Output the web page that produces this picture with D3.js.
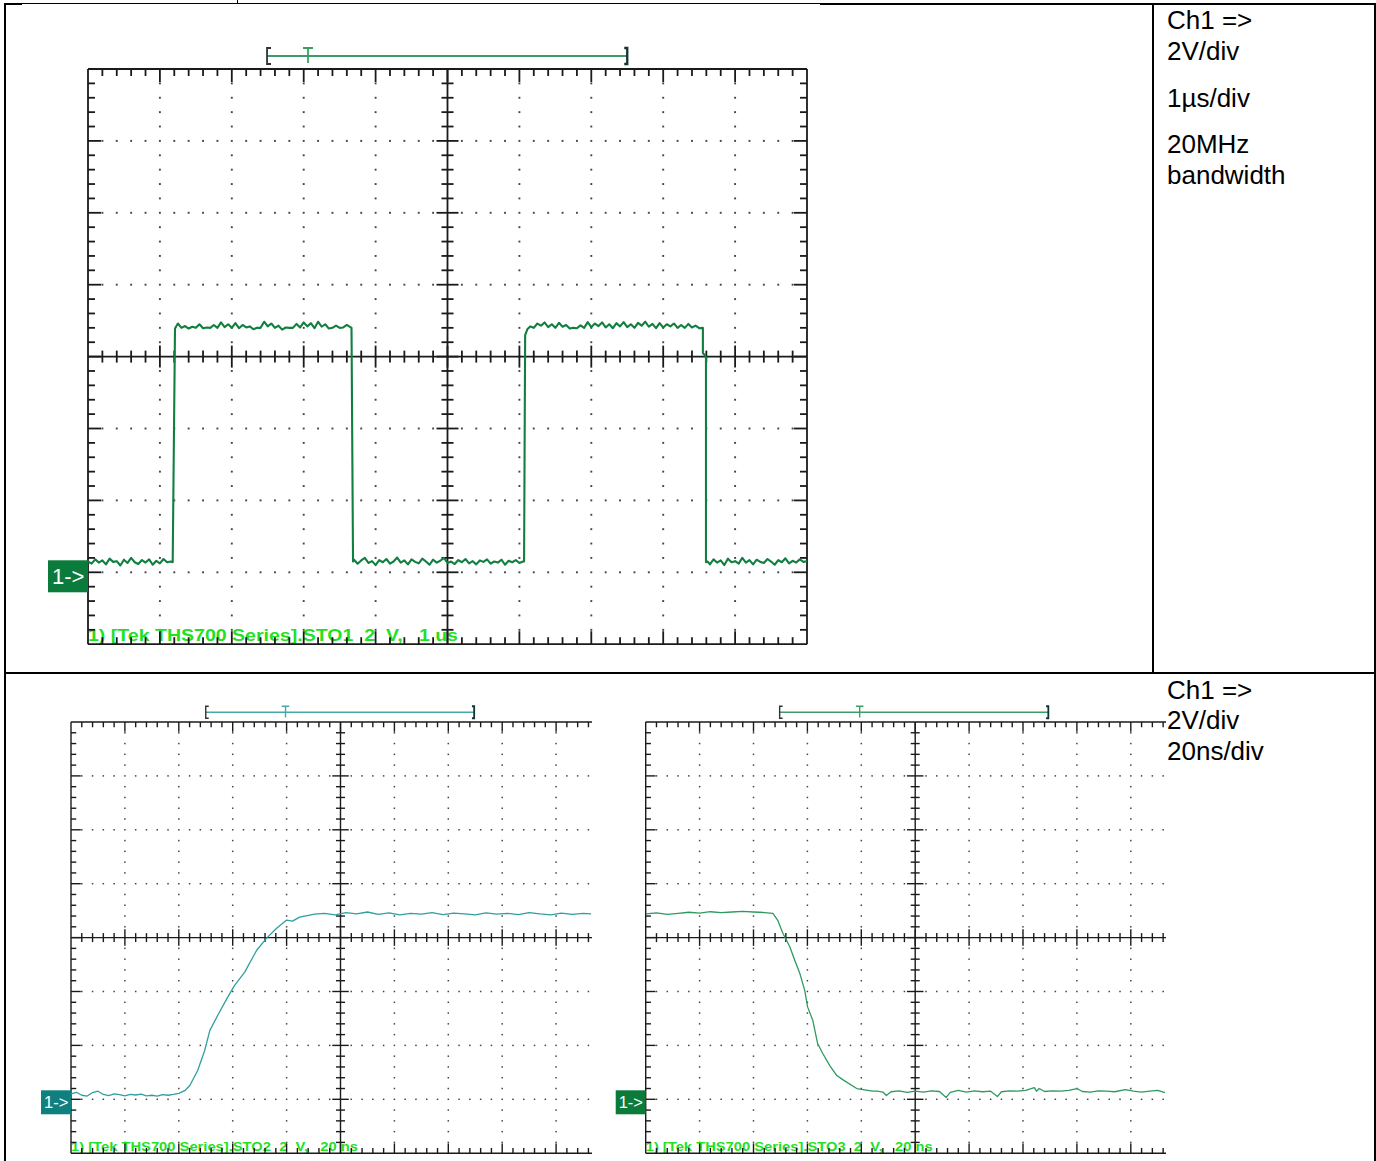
<!DOCTYPE html>
<html>
<head>
<meta charset="utf-8">
<script src="https://cdn.jsdelivr.net/npm/d3@7"></script>
<style>
  body { margin: 0; background: #fff; }
  svg { display: block; }
  text { font-family: "Liberation Sans", Arial, sans-serif; }
</style>
</head>
<body>
<svg id="chart" width="1376" height="1161"></svg>
<script>
// ---- data (time, volts above the ground marker) ----
// top screen: 1 us/div, 2 V/div
const topTrace = [
  [0.00,0.30],[0.05,0.24],[0.10,0.36],[0.15,0.27],[0.20,0.33],[0.25,0.22],[0.30,0.38],[0.35,0.29],
  [0.40,0.31],[0.45,0.19],[0.50,0.35],[0.55,0.26],[0.60,0.40],[0.65,0.28],[0.70,0.23],[0.75,0.34],
  [0.80,0.27],[0.85,0.36],[0.90,0.21],[0.95,0.32],[1.00,0.25],[1.05,0.37],[1.10,0.28],[1.15,0.30],
  [1.178,0.28],[1.21,6.78],
  [1.25,6.92],[1.30,6.80],[1.35,6.85],[1.40,6.78],[1.45,6.83],[1.50,6.80],[1.55,6.90],[1.60,6.79],
  [1.65,6.81],[1.70,6.80],[1.75,6.88],[1.80,6.80],[1.85,6.95],[1.90,6.82],[1.95,6.90],[2.00,6.80],
  [2.05,6.93],[2.10,6.79],[2.15,6.88],[2.20,6.81],[2.25,6.84],[2.30,6.76],[2.35,6.80],[2.40,6.80],
  [2.45,6.97],[2.50,6.84],[2.55,6.92],[2.60,6.80],[2.65,6.86],[2.70,6.75],[2.75,6.81],[2.80,6.80],
  [2.85,6.80],[2.90,6.91],[2.95,6.81],[3.00,6.95],[3.05,6.84],[3.10,6.93],[3.15,6.79],[3.20,6.97],
  [3.25,6.83],[3.30,6.90],[3.35,6.78],[3.40,6.80],[3.45,6.86],[3.50,6.80],[3.55,6.81],[3.60,6.88],
  [3.665,6.80],[3.686,0.30],
  [3.70,0.35],[3.75,0.24],[3.80,0.33],[3.85,0.40],[3.90,0.26],[3.95,0.31],[4.00,0.20],[4.05,0.34],
  [4.10,0.28],[4.15,0.37],[4.20,0.24],[4.25,0.30],[4.30,0.41],[4.35,0.27],[4.40,0.33],[4.45,0.22],
  [4.50,0.36],[4.55,0.29],[4.60,0.25],[4.65,0.38],[4.70,0.30],[4.75,0.21],[4.80,0.35],[4.85,0.27],
  [4.90,0.32],[4.95,0.40],[5.00,0.26],[5.05,0.30],[5.10,0.23],[5.15,0.34],[5.20,0.28],[5.25,0.37],
  [5.30,0.25],[5.35,0.31],[5.40,0.22],[5.45,0.33],[5.50,0.29],[5.55,0.36],[5.60,0.24],[5.65,0.30],
  [5.70,0.27],[5.75,0.35],[5.80,0.21],[5.85,0.32],[5.90,0.28],[5.95,0.34],[6.00,0.26],[6.05,0.30],
  [6.065,0.30],[6.08,6.60],[6.11,6.76],
  [6.15,6.84],[6.20,6.80],[6.25,6.92],[6.30,6.86],[6.35,6.95],[6.40,6.82],[6.45,6.90],[6.50,6.80],
  [6.55,6.94],[6.60,6.83],[6.65,6.88],[6.70,6.78],[6.75,6.80],[6.80,6.79],[6.85,6.87],[6.90,6.80],
  [6.95,6.96],[7.00,6.82],[7.05,6.92],[7.10,6.85],[7.15,6.95],[7.20,6.81],[7.25,6.90],[7.30,6.79],
  [7.35,6.93],[7.40,6.84],[7.45,6.96],[7.50,6.82],[7.55,6.90],[7.60,6.80],[7.65,6.94],[7.70,6.86],
  [7.75,6.97],[7.80,6.83],[7.85,6.91],[7.90,6.79],[7.95,6.93],[8.00,6.81],[8.05,6.90],[8.10,6.84],
  [8.15,6.92],[8.20,6.80],[8.25,6.88],[8.30,6.80],[8.35,6.91],[8.40,6.81],[8.45,6.86],[8.50,6.79],
  [8.552,6.80],[8.552,6.10],[8.595,6.00],[8.595,0.28],
  [8.62,0.30],[8.65,0.22],[8.70,0.36],[8.75,0.27],[8.80,0.33],[8.85,0.20],[8.90,0.38],[8.95,0.28],
  [9.00,0.31],[9.05,0.24],[9.10,0.40],[9.15,0.27],[9.20,0.34],[9.25,0.22],[9.30,0.35],[9.35,0.29],
  [9.40,0.26],[9.45,0.37],[9.50,0.30],[9.55,0.21],[9.60,0.34],[9.65,0.28],[9.70,0.39],[9.75,0.25],
  [9.80,0.32],[9.85,0.27],[9.90,0.36],[9.95,0.29],[10.00,0.31]
];

// bottom left screen: 20 ns/div, rising edge
const riseTrace = [
  [0,0.20],[2,0.26],[4,0.15],[6,0.12],[8,0.25],[10,0.30],[12,0.18],[14,0.14],[16,0.20],[18,0.17],
  [20,0.13],[22,0.18],[24,0.16],[26,0.19],[28,0.13],[30,0.15],[32,0.12],[34,0.17],[36,0.15],[38,0.18],
  [40,0.22],[42.2,0.32],[44.1,0.51],[47.0,1.07],[49.6,1.81],[51.5,2.55],[54.4,3.11],[58.1,3.78],
  [60.7,4.23],[64.4,4.71],[68.9,5.53],[72.6,5.98],[76.3,6.35],[80.0,6.65],[82.2,6.61],[84.8,6.76],
  [90.4,6.87],[94,6.90],[98,6.84],[102,6.93],[106,6.88],[110,6.95],[114,6.86],[118,6.92],[122,6.84],
  [126,6.90],[130,6.87],[134,6.93],[138,6.85],[142,6.91],[146,6.88],[150,6.84],[154,6.92],[158,6.87],
  [162,6.90],[166,6.85],[170,6.93],[174,6.88],[178,6.84],[182,6.91],[186,6.86],[190,6.90],[193,6.88]
];

// bottom right screen: 20 ns/div, falling edge
const fallTrace = [
  [0,6.88],[4,6.92],[8,6.86],[12,6.90],[16,6.94],[20,6.91],[24,6.96],[28,6.93],[32,6.95],[36,6.97],
  [40,6.95],[44,6.93],[47.2,6.90],[49.0,6.64],[50.9,6.16],[53.5,5.65],[55.3,5.16],[57.2,4.67],
  [59.0,4.04],[60.1,3.42],[62.0,2.93],[63.8,2.07],[65.7,1.70],[68.3,1.25],[70.9,0.88],[73.1,0.73],
  [78.3,0.40],[84.2,0.30],[86,0.30],[88,0.27],[89.3,0.14],[91,0.28],[94,0.31],[97,0.26],[100,0.30],
  [103,0.27],[106,0.31],[109,0.29],[111.5,0.07],[113,0.26],[116,0.33],[119,0.27],[122,0.31],[125,0.28],
  [128,0.30],[130.5,0.10],[132,0.28],[135,0.31],[138,0.30],[141,0.33],[144.2,0.43],[145,0.30],
  [146,0.40],[148,0.29],[151,0.31],[154,0.30],[157,0.33],[160,0.40],[162,0.29],[165,0.27],[168,0.31],
  [171,0.30],[174,0.28],[178,0.36],[181,0.30],[184,0.27],[187,0.30],[190,0.33],[192.7,0.25]
];

// record bar: [start, trigger, end] in screen time units
const topBar = [2.49, 3.06, 7.50];
const riseBar = [50, 79.6, 149.6];
const fallBar = [49.7, 79.4, 149.4];

const topLabel = "1) [Tek THS700 Series].STO1  2  V,   1 us";
const riseLabel = "1) [Tek THS700 Series].STO2  2  V,   20 ns";
const fallLabel = "1) [Tek THS700 Series].STO3  2  V,   20 ns";

const topNotes = ["Ch1 =>", "2V/div", "1\u00b5s/div", "20MHz", "bandwidth"];
const bottomNotes = ["Ch1 =>", "2V/div", "20ns/div"];

const svg = d3.select("#chart");

// ---- table lines ----
const table = svg.append("g").attr("stroke", "#000").attr("fill", "none");
table.append("line").attr("x1", 5).attr("y1", 4).attr("x2", 22).attr("y2", 4).attr("stroke-width", 2);
table.append("line").attr("x1", 22).attr("y1", 3.5).attr("x2", 820).attr("y2", 3.5).attr("stroke-width", 1);
table.append("line").attr("x1", 820).attr("y1", 4).attr("x2", 1376).attr("y2", 4).attr("stroke-width", 2);
table.append("line").attr("x1", 237.5).attr("y1", 0).attr("x2", 237.5).attr("y2", 3).attr("stroke-width", 1);
table.append("line").attr("x1", 5).attr("y1", 3).attr("x2", 5).attr("y2", 1161).attr("stroke-width", 2);
table.append("line").attr("x1", 1153).attr("y1", 3).attr("x2", 1153).attr("y2", 673).attr("stroke-width", 2);
table.append("line").attr("x1", 1375).attr("y1", 3).attr("x2", 1375).attr("y2", 1161).attr("stroke-width", 2);
table.append("line").attr("x1", 4).attr("y1", 673).attr("x2", 1376).attr("y2", 673).attr("stroke-width", 2);

// ---- one oscilloscope screen ----
function drawScope(cfg, idx) {
  const div = cfg.div, s = div / 71.9;
  const left = cfg.left, top = cfg.top;
  const right = left + 10 * div, bottom = top + 8 * div;
  const xr = Math.min(right, cfg.crop);

  // ground marker sits 3 div below centre, 2 V/div
  const x = d3.scaleLinear().domain([0, cfg.span]).range([left, right]);
  const y = d3.scaleLinear().domain([-2, 14]).range([bottom, top]);
  const gx = d3.scaleLinear().domain([0, 50]).range([left, right]);
  const gy = d3.scaleLinear().domain([0, 40]).range([top, bottom]);

  const g = svg.append("g");

  g.append("clipPath").attr("id", "clip" + idx)
    .append("rect").attr("x", left).attr("y", top - 2).attr("width", xr - left).attr("height", bottom - top + 4);

  // dotted graticule
  const dots = [];
  for (let k = 1; k < 10; k++) {
    if (k === 5) continue;
    for (let j = 1; j < 40; j++) dots.push([gx(k * 5), gy(j)]);
  }
  for (let j = 1; j < 8; j++) {
    if (j === 4) continue;
    for (let i = 1; i < 50; i++) if (i % 5 !== 0) dots.push([gx(i), gy(j * 5)]);
  }
  const ds = 1.6 * s + 0.3;
  g.append("g").attr("fill", "#444")
    .selectAll("rect").data(dots.filter(d => d[0] <= xr)).join("rect")
    .attr("x", d => d[0] - ds / 2).attr("y", d => d[1] - ds / 2)
    .attr("width", ds).attr("height", ds);

  // label in bright green, under the frame ticks
  g.append("text")
    .attr("x", left).attr("y", bottom - 3 * s)
    .attr("font-size", cfg.labelSize)
    .attr("font-weight", "bold")
    .attr("fill", "#22e022")
    .attr("textLength", cfg.labelW).attr("lengthAdjust", "spacingAndGlyphs")
    .attr("xml:space", "preserve").style("white-space", "pre")
    .text(cfg.label);

  // frame and ticks
  const fr = g.append("g").attr("stroke", "#1a1a1a").attr("stroke-width", 1.6 * s + 0.2).attr("fill", "none");
  const segs = [];
  segs.push([left, top, xr, top], [left, bottom, xr, bottom], [left, top, left, bottom]);
  if (cfg.crop >= right) segs.push([right, top, right, bottom]);
  for (let i = 1; i < 50; i++) {
    const xi = gx(i);
    if (xi > xr) continue;
    const len = (i % 5 === 0 ? 13 : 7) * s;
    segs.push([xi, top, xi, top + len], [xi, bottom, xi, bottom - len]);
  }
  for (let j = 1; j < 40; j++) {
    const yj = gy(j);
    const len = (j % 5 === 0 ? 13 : 7) * s;
    segs.push([left, yj, left + len, yj]);
    if (cfg.crop >= right) segs.push([right, yj, right - len, yj]);
  }
  // centre cross with ticks
  const cx = gx(25), cy = gy(20);
  segs.push([left, cy, xr, cy], [cx, top, cx, bottom]);
  for (let i = 1; i < 50; i++) {
    const xi = gx(i);
    if (xi > xr) continue;
    const len = (i % 5 === 0 ? 11 : 6) * s;
    segs.push([xi, cy - len, xi, cy + len]);
  }
  for (let j = 1; j < 40; j++) {
    const yj = gy(j);
    const len = (j % 5 === 0 ? 11 : 6) * s;
    segs.push([cx - len, yj, cx + len, yj]);
  }
  fr.selectAll("line").data(segs).join("line")
    .attr("x1", d => d[0]).attr("y1", d => d[1]).attr("x2", d => d[2]).attr("y2", d => d[3]);

  // trace
  const line = d3.line().x(d => x(d[0])).y(d => y(d[1]));
  g.append("path")
    .datum(cfg.trace)
    .attr("clip-path", `url(#clip${idx})`)
    .attr("d", line)
    .attr("fill", "none")
    .attr("stroke", cfg.color)
    .attr("stroke-width", cfg.lineW)
    .attr("stroke-linejoin", "round");

  // ground marker "1->"
  const gy0 = y(0);
  g.append("rect")
    .attr("x", left - 40 * s).attr("y", gy0 + 4 * s - 16 * s)
    .attr("width", 40 * s).attr("height", 32 * s)
    .attr("fill", cfg.boxColor);
  g.append("text")
    .attr("x", left - 36 * s).attr("y", gy0 + 12 * s)
    .attr("font-size", 22 * s).attr("fill", "#fff")
    .text("1->");

  // record bar with trigger mark
  const by = top - 13 * s;
  const [b0, bt, b1] = cfg.bar.map(x);
  g.append("line").attr("x1", b0).attr("x2", b1).attr("y1", by).attr("y2", by)
    .attr("stroke", cfg.barColor).attr("stroke-width", 1.8 * s + 0.2);
  g.append("path")
    .attr("d", `M${b0 + 4 * s},${by - 8 * s}H${b0}V${by + 8 * s}H${b0 + 4 * s}`)
    .attr("fill", "none").attr("stroke", "#333").attr("stroke-width", 1.6 * s + 0.2);
  g.append("path")
    .attr("d", `M${b1 - 3 * s},${by - 8 * s}H${b1}V${by + 8 * s}H${b1 - 3 * s}`)
    .attr("fill", "none").attr("stroke", "#133").attr("stroke-width", 2 * s + 0.3);
  g.append("path")
    .attr("d", `M${bt - 5 * s},${by - 8 * s}H${bt + 5 * s}M${bt},${by - 8 * s}V${by + 7 * s}`)
    .attr("fill", "none").attr("stroke", cfg.barColor).attr("stroke-width", 1.6 * s + 0.2);
}

drawScope({
  left: 88, top: 69, div: 71.9, crop: 2000, span: 10,
  trace: topTrace, color: "#117f40", lineW: 2.1,
  boxColor: "#0b7b3c", barColor: "#3a9e66",
  bar: topBar, label: topLabel, labelW: 370, labelSize: 17
}, 0);

drawScope({
  left: 71, top: 722, div: 53.9, crop: 592, span: 200,
  trace: riseTrace, color: "#2f9f9f", lineW: 1.3,
  boxColor: "#0f8080", barColor: "#46a8a8",
  bar: riseBar, label: riseLabel, labelW: 287, labelSize: 13.5
}, 1);

drawScope({
  left: 645.7, top: 722, div: 53.9, crop: 1166, span: 200,
  trace: fallTrace, color: "#2e9a60", lineW: 1.3,
  boxColor: "#0b7b3c", barColor: "#3a9e66",
  bar: fallBar, label: fallLabel, labelW: 287, labelSize: 13.5
}, 2);

// ---- right-hand notes ----
const notes = svg.append("g").attr("font-size", 26).attr("fill", "#000");
const topBase = [29, 60, 107, 153, 184];
notes.selectAll(".tn").data(topNotes).join("text").attr("class", "tn")
  .attr("x", 1167).attr("y", (d, i) => topBase[i]).text(d => d);
const botBase = [699, 729, 760];
notes.selectAll(".bn").data(bottomNotes).join("text").attr("class", "bn")
  .attr("x", 1167).attr("y", (d, i) => botBase[i]).text(d => d);
</script>
</body>
</html>
